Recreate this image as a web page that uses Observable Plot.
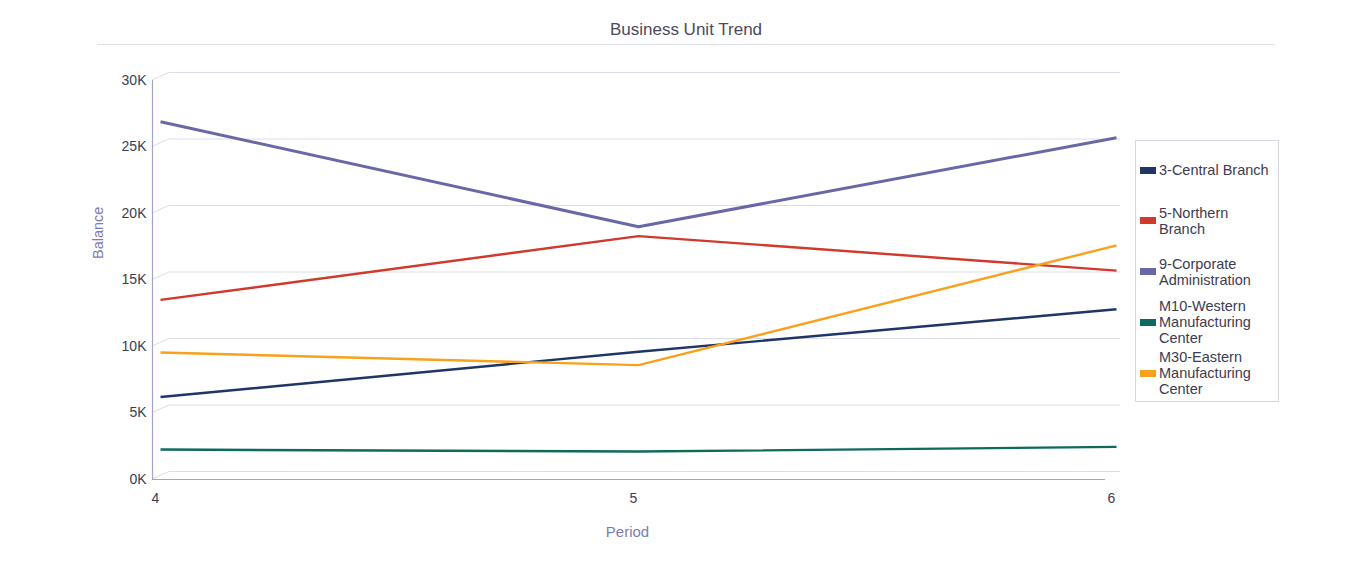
<!DOCTYPE html>
<html><head><meta charset="utf-8">
<script src="https://cdn.jsdelivr.net/npm/d3@7"></script>
<script src="https://cdn.jsdelivr.net/npm/@observablehq/plot@0.6"></script>
<style>
body{margin:0;background:#fff;font-family:"Liberation Sans",Arial,sans-serif;}
#wrap{position:relative;width:1357px;height:571px;overflow:hidden;}
#title{position:absolute;left:97px;width:1178px;top:0;height:44px;border-bottom:1px solid #dcdcea;text-align:center;line-height:60px;font-size:17px;color:#4a4a60;}
#chart{position:absolute;left:0;top:46px;}
#legend{position:absolute;left:1135px;top:140px;width:144px;height:262px;border:1px solid #d6d6e6;box-sizing:border-box;}
.entry{position:absolute;left:0;width:140px;}
.sw{position:absolute;left:4px;width:16px;height:7px;}
.lab{position:absolute;left:23px;font-size:14.5px;line-height:16px;color:#3c3c52;white-space:nowrap;}
</style></head>
<body>
<div id="wrap">
  <div id="title">Business Unit Trend</div>
  <div id="chart"></div>
  <div id="legend"></div>
</div>
<script>
const periods = [4, 5, 6];
const seriesNames = ["3-Central Branch", "5-Northern Branch", "9-Corporate Administration", "M10-Western Manufacturing Center", "M30-Eastern Manufacturing Center"];
const legendLines = [["3-Central Branch"], ["5-Northern", "Branch"], ["9-Corporate", "Administration"], ["M10-Western", "Manufacturing", "Center"], ["M30-Eastern", "Manufacturing", "Center"]];
const colors = ["#1d3567", "#d0392b", "#6868a6", "#0e6a5d", "#f9a11b"];
const central = [5600, 9000, 12200];
const northern = [12900, 17700, 15100];
const corporate = [26300, 18400, 25100];
const western = [1650, 1500, 1850];
const eastern = [8950, 8000, 17000];
const yTicks = [0, 5000, 10000, 15000, 20000, 25000, 30000];
const xTicks = [4, 5, 6];

const valuesBySeries = [central, northern, corporate, western, eastern];
const data = [];
seriesNames.forEach((s, i) => periods.forEach((p, j) => data.push({series: s, period: p, value: valuesBySeries[i][j]})));

const gridColor = "#dcdcea";
const axisColor = "#a4a4c8";

const connectors = (index, scales, values, dimensions) => {
  const g = d3.create("svg:g");
  const x0 = scales.x(4);
  yTicks.forEach(t => {
    const y = scales.y(t);
    g.append("line").attr("x1", x0 - 8).attr("y1", y + 8).attr("x2", x0 + 10).attr("y2", y)
      .attr("stroke", gridColor).attr("stroke-width", 1);
  });
  return g.node();
};

const lineMarks = [3, 0, 1, 2, 4].map(i =>
  Plot.line(data.filter(d => d.series === seriesNames[i]), {
    x: "period", y: "value", stroke: colors[i],
    strokeWidth: i === 2 ? 3 : 2.4, strokeLinejoin: "miter", strokeLinecap: "butt"
  })
);

const chart = Plot.plot({
  width: 1357,
  height: 525,
  marginLeft: 160,
  marginRight: 241,
  marginTop: 26,
  marginBottom: 100,
  style: {fontFamily: "Liberation Sans, Arial, sans-serif", fontSize: "14px", color: "#3c3c52", background: "transparent"},
  x: {domain: [4, 6], axis: null},
  y: {domain: [0, 30000], axis: null},
  marks: [
    Plot.ruleY(yTicks, {stroke: gridColor, strokeWidth: 1, insetLeft: 10, insetRight: -4}),
    connectors,
    Plot.ruleX([4], {y1: 0, y2: 30000, dx: -8, dy: 8, stroke: axisColor, strokeWidth: 1.2}),
    Plot.ruleY([0], {dx: -8, dy: 8, insetRight: 3, stroke: axisColor, strokeWidth: 1.2}),
    Plot.axisY({ticks: yTicks, label: null, tickSize: 0, tickPadding: 14, dy: 8, tickFormat: d => d / 1000 + "K", fill: "#3c3c52"}),
    Plot.axisX({ticks: xTicks, label: null, tickSize: 0, tickPadding: 22, dx: -5, tickFormat: d => String(d), fill: "#3c3c52"}),
    Plot.text(["Balance"], {frameAnchor: "left", rotate: -90, dx: -62, dy: -13, fill: "#7b7bb5", fontSize: 14.5}),
    Plot.text(["Period"], {frameAnchor: "bottom", dx: -11, dy: 65, fill: "#7b7bb5", fontSize: 15}),
    ...lineMarks
  ]
});
document.getElementById("chart").appendChild(chart);

const legend = document.getElementById("legend");
legendLines.forEach((lines, i) => {
  const cy = 30 + i * 50.75;
  const e = document.createElement("div");
  e.className = "entry";
  const sw = document.createElement("div");
  sw.className = "sw";
  sw.style.background = colors[i];
  sw.style.top = (cy - 3.5 - 1) + "px";
  const lab = document.createElement("div");
  lab.className = "lab";
  lab.style.top = (cy - lines.length * 8 - 1) + "px";
  lab.innerHTML = lines.join("<br>");
  e.appendChild(sw);
  e.appendChild(lab);
  legend.appendChild(e);
});
</script>
</body></html>
